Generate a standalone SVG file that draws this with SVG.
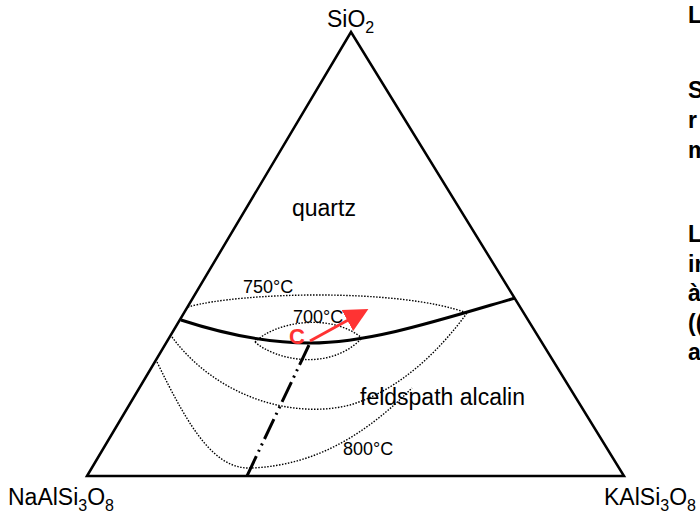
<svg xmlns="http://www.w3.org/2000/svg" width="700" height="515" viewBox="0 0 700 515">
<style>
text{font-family:"Liberation Sans",Arial,sans-serif;fill:#000}
.lbl{font-size:23px}
.tmp{font-size:18px}
.side{font-size:23px;font-weight:bold}
.dot{fill:none;stroke:#000;stroke-width:1.4;stroke-dasharray:1.5 1.5}
</style>
<defs>
<marker id="ah" markerWidth="8" markerHeight="8" refX="1" refY="4" orient="auto" markerUnits="strokeWidth">
<path d="M0,0 L8,4 L0,8 z" fill="#ff3333"/>
</marker>
</defs>
<rect width="700" height="515" fill="#fff"/>
<g id="triangle">
<path d="M87,476 L351,32 L624,476 Z" fill="none" stroke="#000" stroke-width="2.5" stroke-linejoin="miter"/>
</g>
<g id="vertex-sio2"><text class="lbl" x="327" y="27">SiO<tspan font-size="16" dy="6">2</tspan></text></g>
<g id="vertex-na"><text class="lbl" x="8" y="505">NaAlSi<tspan font-size="16" dy="6">3</tspan><tspan dy="-6">O</tspan><tspan font-size="16" dy="6">8</tspan></text></g>
<g id="vertex-k"><text class="lbl" x="604" y="505">KAlSi<tspan font-size="16" dy="6">3</tspan><tspan dy="-6">O</tspan><tspan font-size="16" dy="6">8</tspan></text></g>
<g id="field-quartz"><text class="lbl" x="292" y="216">quartz</text></g>
<g id="field-feldspath"><text class="lbl" x="360" y="405">feldspath alcalin</text></g>
<g id="connectors">
<path d="M181,320 C230,336 270,343 310,343 C370,343 440,320 515,298" fill="none" stroke="#000" stroke-width="3"/>
<path class="dot" d="M188,307 C240,292 400,288 467,313"/>
<path class="dot" d="M172,337 C215,395 290,420 350,405 C400,390 440,350 467,313"/>
<path class="dot" d="M157,362 C190,430 215,470 252,468 C320,465 370,430 412,388"/>
<path class="dot" d="M255,342 C275,322 330,312 362,338"/>
<path class="dot" d="M255,342 C275,360 330,372 362,338"/>
<path d="M309,345 L246,478" fill="none" stroke="#000" stroke-width="3" stroke-dasharray="22 5 2 5 2 5"/>
<path d="M310,341 L350,319" fill="none" stroke="#ff3333" stroke-width="3" marker-end="url(#ah)"/>
</g>
<g id="labels">
<text class="tmp" x="243" y="293">750°C</text>
<text class="tmp" x="293" y="323">700°C</text>
<text class="tmp" x="343" y="455">800°C</text>
<text x="289" y="344" font-size="22" font-weight="bold" style="fill:#ff3333">C</text>
</g>
<g id="side-text">
<text class="side" x="688" y="23">L</text>
<text class="side" x="688" y="98">S</text>
<text class="side" x="688" y="128">r</text>
<text class="side" x="688" y="158">m</text>
<text class="side" x="688" y="242">L</text>
<text class="side" x="688" y="272">in</text>
<text class="side" x="688" y="301">à</text>
<text class="side" x="688" y="331">((</text>
<text class="side" x="688" y="360">a</text>
</g>
</svg>
